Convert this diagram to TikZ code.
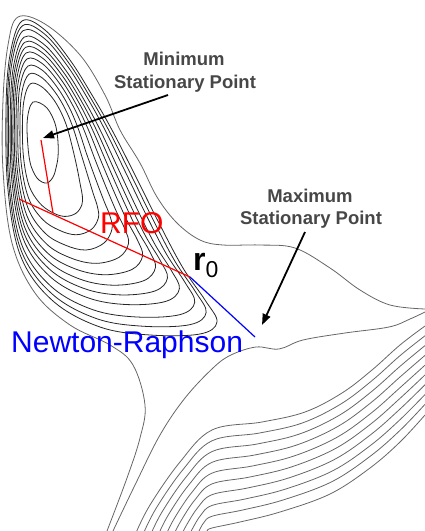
\documentclass[tikz,border=0pt]{standalone}
\usepackage{fontspec}
\setmainfont{Liberation Sans}
\usetikzlibrary{arrows.meta,calc}
\begin{document}
\begin{tikzpicture}[x=1pt,y=-1pt,
  contour/.style={line width=0.8pt, black!85},
  outercont/.style={line width=0.8pt, black!60},
  lbl/.style={font=\fontsize{18.5}{22}\selectfont\bfseries, text=black!72, inner sep=0pt, anchor=base},
  ptr/.style={line width=1.8pt, -{Triangle[length=11pt,width=8pt]}},
  big/.style={font=\fontsize{30}{30}\selectfont, inner sep=0pt, anchor=base west}]
\useasboundingbox (0,0) rectangle (425,531);
% innermost closed contour
\coordinate (I1) at (33,102);
\coordinate (I2) at (40,103);
\coordinate (I3) at (47,108);
\coordinate (I4) at (52,116);
\coordinate (I5) at (56,127);
\coordinate (I6) at (58,142);
\coordinate (I7) at (58,157);
\coordinate (I8) at (56,168);
\coordinate (I9) at (54,175);
\coordinate (I10) at (51,180);
\coordinate (I11) at (47,183);
\coordinate (I12) at (42,182);
\coordinate (I13) at (37,178);
\coordinate (I14) at (33,171);
\coordinate (I15) at (30,162);
\coordinate (I16) at (28,147);
\coordinate (I17) at (27,125);
\coordinate (I18) at (29,110);
% a middle closed contour
\coordinate (M1) at (28,66);
\coordinate (M2) at (42,70);
\coordinate (M3) at (57,87);
\coordinate (M4) at (69,107);
\coordinate (M5) at (78,128);
\coordinate (M6) at (87,155);
\coordinate (M7) at (96,180);
\coordinate (M8) at (104,201);
\coordinate (M9) at (110,216);
\coordinate (M10) at (112,229);
\coordinate (M11) at (104,243);
\coordinate (M12) at (86,250);
\coordinate (M13) at (65,245);
\coordinate (M14) at (45,233);
\coordinate (M15) at (28,208);
\coordinate (M16) at (19,166);
\coordinate (M17) at (18,118);
\coordinate (M18) at (20,86);
% outermost closed contour
\coordinate (O1) at (22,21);
\coordinate (O2) at (45,30);
\coordinate (O3) at (70,60);
\coordinate (O4) at (92,95);
\coordinate (O5) at (112,130);
\coordinate (O6) at (135,175);
\coordinate (O7) at (160,225);
\coordinate (O8) at (183,268);
\coordinate (O9) at (205,300);
\coordinate (O10) at (217,322);
\coordinate (O11) at (200,334);
\coordinate (O12) at (150,335);
\coordinate (O13) at (100,327);
\coordinate (O14) at (53,301);
\coordinate (O15) at (21,257);
\coordinate (O16) at (8,190);
\coordinate (O17) at (6,110);
\coordinate (O18) at (10,55);
\foreach \s in {0,0.506,0.776}{
  \foreach \j in {1,...,18}{ \coordinate (P\j) at ($(I\j)!\s!(M\j)$); }
  \draw[contour] plot[smooth cycle, tension=0.6] coordinates {(P1) (P2) (P3) (P4) (P5) (P6) (P7) (P8) (P9) (P10) (P11) (P12) (P13) (P14) (P15) (P16) (P17) (P18)};
}
\foreach \s in {0,0.157,0.291,0.414,0.528,0.642,0.788,0.897,1}{
  \foreach \j in {1,...,18}{ \coordinate (P\j) at ($(M\j)!\s!(O\j)$); }
  \draw[contour] plot[smooth cycle, tension=0.6] coordinates {(P1) (P2) (P3) (P4) (P5) (P6) (P7) (P8) (P9) (P10) (P11) (P12) (P13) (P14) (P15) (P16) (P17) (P18)};
}
% open contours through the saddle region
\draw[outercont] plot[smooth, tension=0.6] coordinates {(107,531) (127,478) (140,438) (145,405) (133,365) (110,345) (70,325) (35,293) (12,243) (3,170) (3,100) (8,45) (18,17) (45,24) (80,55) (105,95) (120,130) (140,163) (157,197) (177,223) (200,240) (223,245) (260,245) (295,248) (330,268) (360,290) (390,305) (425,309)};
\draw[outercont] plot[smooth, tension=0.6] coordinates {(425,312) (410,319) (389,327) (345,333) (303,340) (279,349) (256,347) (231,355) (213,368) (185,398) (160,435) (135,485) (113,531)};
% bottom right family: first and last members
\coordinate (F1) at (425,326);
\coordinate (F2) at (400,345);
\coordinate (F3) at (372,370);
\coordinate (F4) at (342,393);
\coordinate (F5) at (305,412);
\coordinate (F6) at (262,422);
\coordinate (F7) at (212,430);
\coordinate (F8) at (180,462);
\coordinate (F9) at (150,505);
\coordinate (F10) at (135,535);
\coordinate (G1) at (425,415);
\coordinate (G2) at (400,442);
\coordinate (G3) at (370,468);
\coordinate (G4) at (330,494);
\coordinate (G5) at (280,512);
\coordinate (G6) at (240,522);
\coordinate (G7) at (212,528);
\coordinate (G8) at (207,531);
\coordinate (G9) at (205,536);
\coordinate (G10) at (203,540);
\foreach \t in {0,0.11,0.22,0.33,0.44,0.55,0.66,0.77,0.88,1}{
  \foreach \j in {1,...,10}{ \coordinate (Q\j) at ($(F\j)!\t!(G\j)$); }
  \draw[outercont] plot[smooth, tension=0.6] coordinates {(Q1) (Q2) (Q3) (Q4) (Q5) (Q6) (Q7) (Q8) (Q9) (Q10)};
}
% optimisation steps
\coordinate (rA) at (41,140);
\coordinate (rB) at (53,213);
\coordinate (rC) at (19,199);
\coordinate (rz) at (190,277);
\coordinate (nr) at (255,337);
\draw[red, line width=1.2pt] (rA) -- (rB);
\draw[red, line width=1.2pt] (rC) -- (rz);
\draw[blue, line width=1.2pt] (rz) -- (nr);
% labels
\node[lbl] (minA) at (184,65) {Minimum};
\node[lbl] (minB) at (185,88) {Stationary Point};
\node[lbl] (maxA) at (310,202) {Maximum};
\node[lbl] (maxB) at (311,224) {Stationary Point};
\coordinate (minTail) at (168,95);
\coordinate (minTip) at (43,138);
\coordinate (maxTail) at (305,232);
\coordinate (maxTip) at (262,325);
\draw[ptr] (minTail) -- (minTip);
\draw[ptr] (maxTail) -- (maxTip);
\node[big, text=red] (rfo) at (100,233) {RFO};
\node[big, text=blue] (nrlbl) at (11,352) {Newton-Raphson};
\node[inner sep=0pt, anchor=base west] (r0) at (193,270) {\fontsize{32}{32}\selectfont\bfseries r\raisebox{-7pt}{\fontsize{23}{23}\mdseries\selectfont 0}};
\end{tikzpicture}
\end{document}
